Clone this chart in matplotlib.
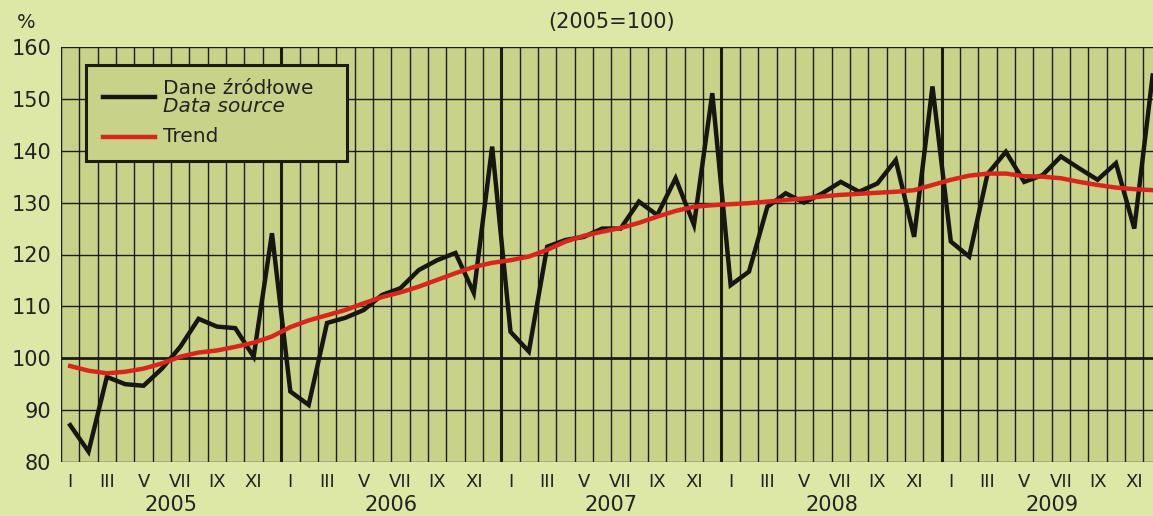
import matplotlib.pyplot as plt
from matplotlib.lines import Line2D
from matplotlib.patches import Rectangle
from matplotlib import transforms
import numpy as np

# Data: monthly index 2005-2009 (2005=100)
years = ["2005", "2006", "2007", "2008", "2009"]
month_labels = ["I", "", "III", "", "V", "", "VII", "", "IX", "", "XI", ""]
source = [
    87.1, 82.0, 96.4, 95.0, 94.7, 98.0, 102.2, 107.6, 106.1, 105.8, 100.3, 124.1,
    93.6, 91.0, 106.8, 107.8, 109.3, 112.2, 113.5, 117.0, 118.9, 120.3, 112.6, 140.8,
    105.1, 101.3, 121.5, 122.8, 123.4, 125.0, 125.0, 130.2, 127.6, 134.7, 125.7, 151.1,
    114.1, 116.7, 129.2, 131.8, 130.0, 131.8, 134.0, 132.1, 133.7, 138.2, 123.4, 152.4,
    122.5, 119.6, 135.5, 139.8, 134.0, 135.3, 138.9, 136.6, 134.4, 137.6, 125.0, 154.5,
]
trend = [
    98.5, 97.6, 97.1, 97.4, 98.0, 99.0, 100.3, 101.1, 101.5, 102.2, 103.0, 104.2,
    106.0, 107.3, 108.3, 109.3, 110.6, 111.8, 112.7, 113.8, 115.1, 116.4, 117.6, 118.4,
    118.9, 119.6, 120.9, 122.5, 123.6, 124.4, 125.1, 126.1, 127.3, 128.4, 129.2, 129.5,
    129.7, 129.9, 130.2, 130.5, 130.8, 131.2, 131.5, 131.7, 131.9, 132.1, 132.4, 133.4,
    134.4, 135.2, 135.6, 135.6, 135.1, 135.0, 134.7, 134.0, 133.4, 132.9, 132.6, 132.4,
]

fig_bg = "#dde8a6"
ax_bg = "#c9d289"
ink = "#1c1c14"
red = "#d8261c"

plt.rcParams['font.family'] = ['DejaVu Sans']

W, H = 1153, 516
fig = plt.figure(figsize=(W / 100, H / 100), dpi=100, facecolor=fig_bg)
ax = fig.add_axes([61 / W, 1 - 462 / H, 1 - 61 / W, (462 - 47) / H])
ax.set_facecolor(ax_bg)

x = np.arange(len(source))
# the chart is cropped: the last month's point sits right on the edge
ax.set_xlim(-0.5, len(source) - 0.98)
ax.set_ylim(80, 160)

# grid: month boundaries, thicker at year changes
for k in range(len(source)):
    b = k - 0.5
    lw = 2.2 if k % 12 == 0 and k > 0 else 1.0
    ax.axvline(b, color=ink, lw=lw, zorder=1)
for v in range(80, 161, 10):
    ax.axhline(v, color=ink, lw=2.0 if v == 100 else 1.0, zorder=1)

ax.plot(x, source, color="#161612", lw=3.2, zorder=3, solid_joinstyle="miter")
ax.plot(x, trend, color=red, lw=3.2, zorder=4)

for s in ax.spines.values():
    s.set_visible(False)
ax.axvline(-0.5, color=ink, lw=1.5, zorder=1)

ax.set_yticks(range(80, 161, 10))
ax.tick_params(axis="y", length=0, pad=7, labelsize=15, colors="#222")
ax.set_xticks(x)
ax.set_xticklabels(month_labels * len(years))
ax.tick_params(axis="x", length=0, pad=8, labelsize=13, colors="#222")

trans = transforms.blended_transform_factory(ax.transData, fig.transFigure)
for i, yr in enumerate(years):
    ax.text(i * 12 + 5.5, 1 - 505 / H, yr, transform=trans, ha="center",
            va="center", fontsize=15, color="#222")

fig.text(26 / W, 1 - 22 / H, "%", ha="center", va="center", fontsize=14, color="#222")
fig.text(612 / W, 1 - 22 / H, "(2005=100)", ha="center", va="center",
         fontsize=15, color="#222")

# legend box
def fx(px):
    return px / W

def fy(py):
    return 1 - py / H

box = Rectangle((fx(86), fy(161)), fx(347) - fx(86), fy(65) - fy(161),
                transform=fig.transFigure, facecolor=ax_bg, edgecolor=ink,
                lw=2.2, zorder=5)
fig.patches.append(box)
fig.lines.append(Line2D([fx(103), fx(155)], [fy(97), fy(97)], color="#161612",
                        lw=3.2, transform=fig.transFigure, zorder=6))
fig.lines.append(Line2D([fx(103), fx(155)], [fy(137), fy(137)], color=red,
                        lw=3.2, transform=fig.transFigure, zorder=6))
fig.text(fx(163), fy(88), "Dane źródłowe", va="center", ha="left",
         fontsize=14.5, color="#222", zorder=6)
fig.text(fx(163), fy(107), "Data source", va="center", ha="left",
         fontsize=14.5, style="italic", color="#222", zorder=6)
fig.text(fx(163), fy(137), "Trend", va="center", ha="left",
         fontsize=14.5, color="#222", zorder=6)

fig.savefig("out.png", dpi=100, facecolor=fig_bg)
